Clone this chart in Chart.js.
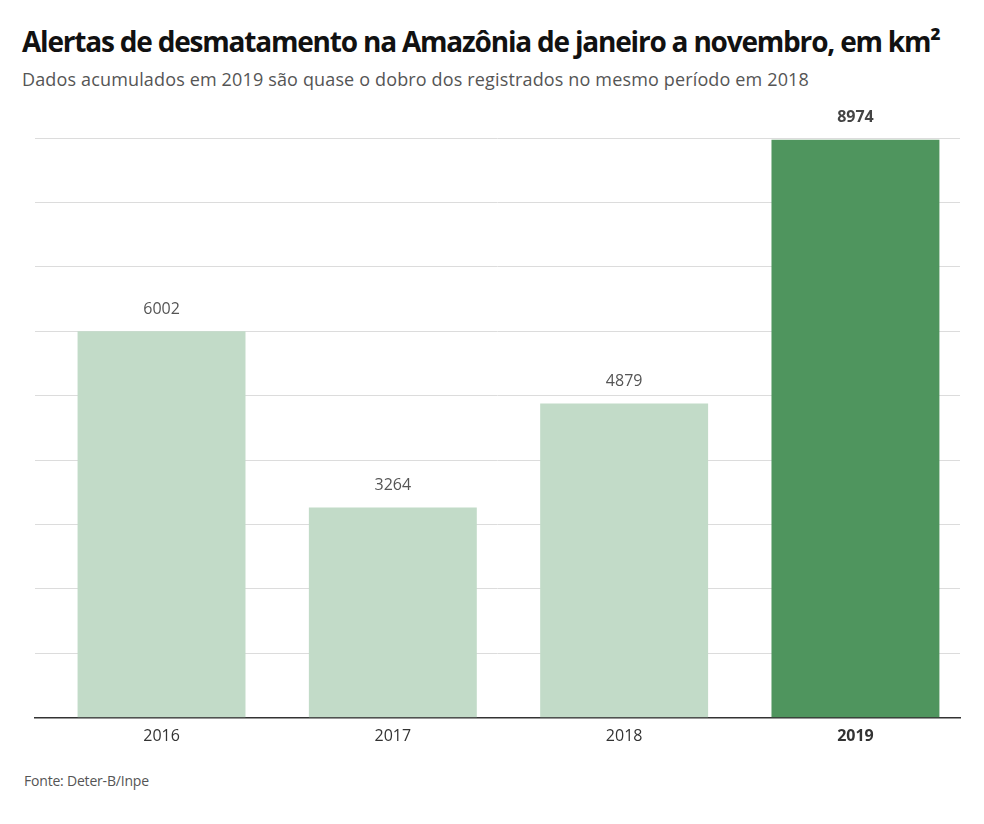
<!DOCTYPE html>
<html>
<head>
<meta charset="utf-8">
<script src="https://cdn.jsdelivr.net/npm/chart.js@4.4.1/dist/chart.umd.min.js"></script>
<style>
  html, body { margin: 0; padding: 0; background: #fff; }
  body { width: 984px; height: 824px; position: relative; overflow: hidden; font-family: "Open Sans", sans-serif; }
  #title { position: absolute; left: 22px; top: 22px; font-size: 28px; font-weight: 700; color: #111; letter-spacing: -1.2px; white-space: nowrap; }
  #subtitle { position: absolute; left: 22px; top: 67px; font-size: 18px; color: #555; letter-spacing: 0.15px; white-space: nowrap; }
  #source { position: absolute; left: 24px; top: 771px; font-size: 14px; color: #555; letter-spacing: -0.2px; }
  #wrap { position: absolute; left: 0; top: 100px; width: 984px; height: 669px; }
</style>
</head>
<body>
<div id="title">Alertas de desmatamento na Amazônia de janeiro a novembro, em km²</div>
<div id="subtitle">Dados acumulados em 2019 são quase o dobro dos registrados no mesmo período em 2018</div>
<div id="wrap"><canvas id="chart"></canvas></div>
<div id="source">Fonte: Deter-B/Inpe</div>
<script>
const years = [2016, 2017, 2018, 2019];
const alerts = [6002, 3264, 4879, 8974];
const barColors = ['#c2dbc8', '#c2dbc8', '#c2dbc8', '#4f955e'];
const highlightYear = 2019;

const valueLabels = {
    id: 'valueLabels',
    afterDatasetsDraw(chart) {
        const ctx = chart.ctx;
        const meta = chart.getDatasetMeta(0);
        ctx.save();
        ctx.textAlign = 'center';
        ctx.textBaseline = 'middle';
        meta.data.forEach((bar, i) => {
            const bold = years[i] === highlightYear;
            ctx.font = (bold ? '700 ' : '400 ') + '16px "Open Sans"';
            ctx.fillStyle = bold ? '#444' : '#555';
            ctx.fillText(String(alerts[i]), bar.x, bar.y - 22);
        });
        ctx.restore();
    }
};

new Chart(document.getElementById('chart'), {
    type: 'bar',
    data: {
        datasets: [{
            data: years.map((y, i) => ({ x: y, y: alerts[i] })),
            backgroundColor: barColors,
            barPercentage: 0.726,
            categoryPercentage: 1
        }]
    },
    options: {
        responsive: true,
        maintainAspectRatio: false,
        animation: false,
        layout: { padding: { left: 35, right: 24, top: 38, bottom: 14 } },
        plugins: { legend: { display: false }, tooltip: { enabled: false } },
        scales: {
            x: {
                type: 'linear',
                offset: false,
                min: 2015.453,
                max: 2019.452,
                afterBuildTicks: axis => { axis.ticks = years.map(v => ({ value: v })); },
                grid: { display: false, drawTicks: false },
                border: { color: '#333', width: 1.5 },
                ticks: {
                    padding: 9,
                    color: '#333',
                    font: c => ({ family: '"Open Sans"', size: 16, weight: c.tick && c.tick.value === highlightYear ? '700' : '400' }),
                    callback: v => String(v)
                }
            },
            y: {
                min: 0,
                max: 9000,
                ticks: { display: false, stepSize: 1000 },
                grid: { color: '#dcdcdc', lineWidth: 1, drawTicks: false },
                border: { display: false }
            }
        }
    },
    plugins: [valueLabels]
});
</script>
</body>
</html>
